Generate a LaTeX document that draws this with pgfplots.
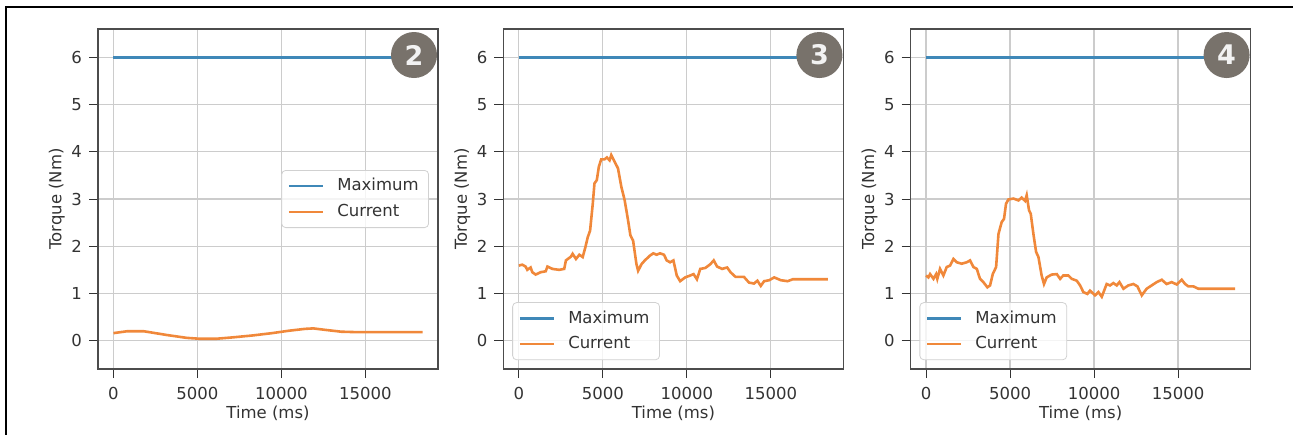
\documentclass[border=0pt]{standalone}
\usepackage{pgfplots}
\pgfplotsset{compat=1.18}
\usepackage{fontspec}
\setmainfont{DejaVu Sans}
\definecolor{mplblue}{HTML}{3F88B8}
\definecolor{mplorange}{HTML}{F0883A}
\definecolor{badge}{HTML}{78726B}
\definecolor{txt}{HTML}{333333}

\pgfplotsset{
  torque/.style={
    scale only axis, width=170pt, height=170pt,
    xmin=-920, xmax=19320, ymin=-0.6, ymax=6.6,
    xtick={0,5000,10000,15000}, ytick={0,1,2,3,4,5,6},
    xtick pos=bottom, ytick pos=left,
    scaled x ticks=false,
    /pgf/number format/1000 sep={},
    /pgf/number format/assume math mode=true,
    tick align=outside, major tick length=4.5pt,
    tick style={color=txt, line width=0.5pt},
    grid=major, major grid style={color=black!20, line width=0.6pt},
    axis line style={color=black!70, line width=0.6pt},
    tick label style={font=\fontsize{8.25}{10}\selectfont, text=txt},
    xticklabel style={yshift=-1pt},
    label style={font=\fontsize{8.25}{10}\selectfont, text=txt},
    xlabel={Time (ms)}, ylabel={Torque (Nm)},
    xlabel style={at={(axis description cs:0.5,-0.131)}, anchor=center},
    ylabel style={at={(axis description cs:-0.121,0.5)}, anchor=center},
    legend cell align=left,
    legend image code/.code={\draw[#1, line width=1.3pt] (0pt,0pt) -- (17pt,0pt);},
    legend style={draw=black!18, rounded corners=2pt, fill=white, fill opacity=0.8,
      text opacity=1, font=\fontsize{8.25}{10}\selectfont, text=txt,
      inner xsep=3pt, inner ysep=2pt, row sep=1.2pt,
      /tikz/every odd column/.append style={column sep=4.5pt}},
    every axis plot/.append style={line width=1.3pt},
  }
}
\newcommand{\badge}[1]{\node[circle, fill=badge, minimum size=23pt, inner sep=0pt,
  text=black!5, font=\fontsize{13.5}{14}\selectfont\bfseries,
  xshift=-12pt, yshift=-13pt] at (rel axis cs:1,1) {#1};}

\begin{document}
\begin{tikzpicture}
\path[use as bounding box] (0,0) rectangle (646.5pt,217.5pt);
\draw[line width=1.15pt] (2.5pt,213.9pt) -- (646.5pt,213.9pt);
\draw[line width=1.15pt] (3.1pt,213.9pt) -- (3.1pt,0pt);

% panel 2
\begin{axis}[torque, at={(49pt,33pt)},
  legend style={at={(0.9735,0.5)}, anchor=east}]
\addplot[mplblue] coordinates {(0,6) (18400,6)};
\addlegendentry{Maximum}
\addplot[mplorange] coordinates {
  (0,0.16) (820,0.20) (1800,0.20) (3180,0.12) (4350,0.06) (5140,0.04)
  (6100,0.04) (7100,0.07) (8270,0.11) (9450,0.16) (10430,0.21)
  (11400,0.25) (11900,0.26) (12580,0.23) (13560,0.19) (14540,0.18)
  (18400,0.18)};
\addlegendentry{Current}
\badge{2}
\end{axis}

% panel 3
\begin{axis}[torque, at={(251.7pt,33pt)},
  legend style={at={(0.026,0.026)}, anchor=south west}]
\addplot[mplblue] coordinates {(0,6) (18400,6)};
\addlegendentry{Maximum}
\addplot[mplorange] coordinates {
  (0,1.59) (200,1.61) (400,1.57) (500,1.50) (700,1.55) (800,1.45)
  (1000,1.40) (1300,1.45) (1600,1.47) (1700,1.57) (2000,1.52)
  (2400,1.50) (2700,1.52) (2800,1.70) (3100,1.78) (3200,1.84)
  (3400,1.73) (3600,1.82) (3800,1.77) (3960,1.98) (4100,2.19)
  (4240,2.33) (4400,2.90) (4500,3.33) (4640,3.40) (4760,3.68)
  (4900,3.84) (5100,3.84) (5240,3.88) (5400,3.82) (5500,3.93)
  (5700,3.79) (5900,3.65) (6100,3.26) (6300,2.97) (6500,2.55)
  (6640,2.23) (6800,2.12) (7000,1.62) (7100,1.48) (7300,1.62)
  (7500,1.70) (7800,1.80) (8000,1.85) (8200,1.82) (8400,1.85)
  (8640,1.82) (8800,1.70) (9000,1.66) (9200,1.70) (9400,1.38)
  (9600,1.26) (9900,1.34) (10200,1.38) (10400,1.41) (10600,1.30)
  (10800,1.52) (11100,1.54) (11400,1.62) (11600,1.70) (11800,1.57)
  (12100,1.52) (12400,1.55) (12600,1.45) (12900,1.35) (13400,1.35)
  (13700,1.23) (14000,1.21) (14200,1.27) (14400,1.16) (14600,1.26)
  (14900,1.28) (15200,1.34) (15600,1.28) (16000,1.26) (16300,1.30)
  (16500,1.30) (18400,1.30)};
\addlegendentry{Current}
\badge{3}
\end{axis}

% panel 4
\begin{axis}[torque, at={(455.3pt,33pt)},
  legend style={at={(0.026,0.026)}, anchor=south west}]
\addplot[mplblue] coordinates {(0,6) (18400,6)};
\addlegendentry{Maximum}
\addplot[mplorange] coordinates {
  (0,1.38) (140,1.34) (240,1.41) (440,1.31) (600,1.41) (670,1.31)
  (830,1.52) (1030,1.38) (1230,1.56) (1430,1.59) (1630,1.73)
  (1830,1.66) (2120,1.63) (2420,1.66) (2620,1.70) (2820,1.56)
  (3020,1.52) (3210,1.31) (3410,1.24) (3650,1.13) (3810,1.17)
  (3970,1.41) (4170,1.56) (4310,2.26) (4500,2.51) (4640,2.58)
  (4760,2.90) (4900,2.99) (5200,3.01) (5500,2.97) (5690,3.03)
  (5890,2.96) (5990,3.08) (6130,2.76) (6230,2.69) (6390,2.26)
  (6550,1.88) (6690,1.77) (6880,1.38) (7020,1.20) (7180,1.34)
  (7480,1.40) (7780,1.41) (7980,1.31) (8170,1.38) (8470,1.38)
  (8670,1.31) (8970,1.27) (9170,1.17) (9360,1.03) (9600,0.99)
  (9760,1.06) (10060,0.96) (10260,1.03) (10460,0.93) (10750,1.20)
  (10950,1.17) (11150,1.22) (11350,1.17) (11510,1.24) (11750,1.10)
  (12040,1.17) (12340,1.20) (12580,1.15) (12840,0.96) (13130,1.10)
  (13430,1.17) (13730,1.24) (14030,1.29) (14320,1.20) (14620,1.24)
  (14920,1.19) (15220,1.29) (15420,1.20) (15610,1.15) (15910,1.15)
  (16210,1.10) (18400,1.10)};
\addlegendentry{Current}
\badge{4}
\end{axis}
\end{tikzpicture}
\end{document}
